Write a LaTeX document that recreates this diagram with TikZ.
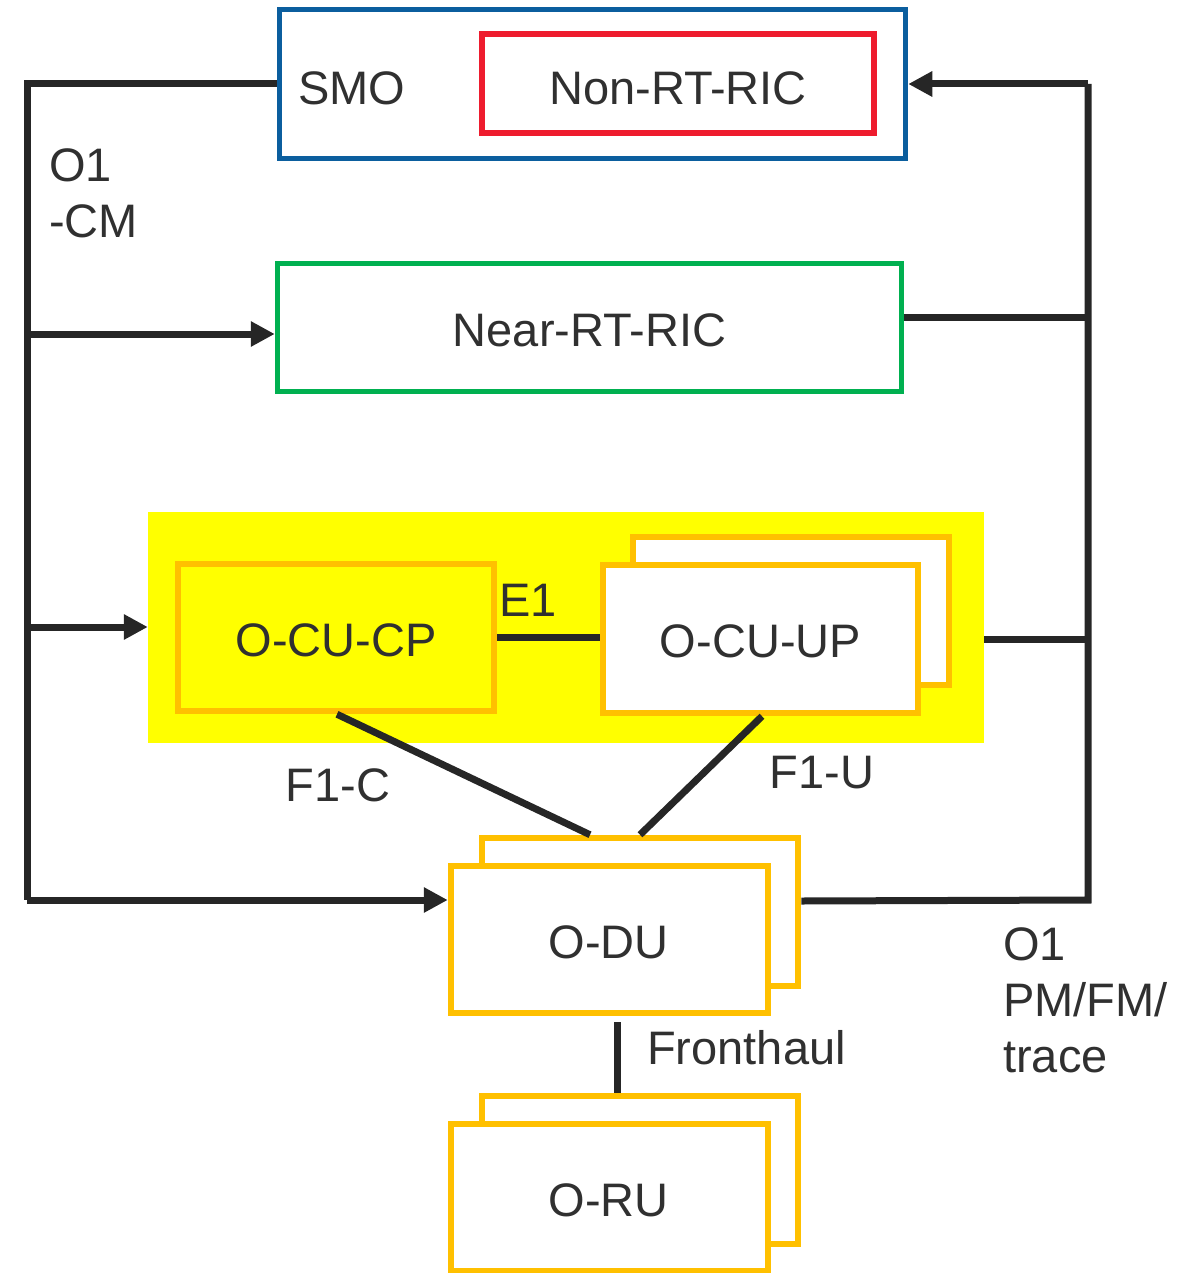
\documentclass[tikz,border=0pt]{standalone}
\usepackage{fontspec}
\setmainfont{Liberation Sans}
\usetikzlibrary{arrows.meta}
\definecolor{smoblue}{HTML}{0B5E9E}
\definecolor{ricred}{HTML}{EE1C2E}
\definecolor{ricgreen}{HTML}{00B050}
\definecolor{ranorange}{HTML}{FFC000}
\definecolor{cuyellow}{HTML}{FFFF00}
\definecolor{ink}{HTML}{262626}
\definecolor{txt}{HTML}{303030}
\begin{document}
\begin{tikzpicture}[x=1pt,y=-1pt,
  font=\fontsize{47}{56}\selectfont,
  every node/.style={text=txt, inner sep=0pt},
  ranbox/.style={draw=ranorange, line width=6.5pt, fill=white},
  wire/.style={draw=ink, line width=7pt},
  arr/.style={wire, -{Triangle[length=24pt,width=24pt]}},
  lbl/.style={align=left, anchor=north west}
]
\useasboundingbox (0,0) rectangle (1191,1273);

% SMO and Non-RT-RIC
\node[draw=smoblue, line width=5.5pt, minimum width=626pt, minimum height=149pt] (smo) at (592.5,84) {};
\node (smolbl) at (352,88) {SMO};
\node[draw=ricred, line width=6.5pt, minimum width=392pt, minimum height=99pt] (nonrt) at (678,83.5) {};
\node (nonrtlbl) at (678,88) {Non-RT-RIC};

% Near-RT-RIC
\node[draw=ricgreen, line width=5.5pt, minimum width=624pt, minimum height=128pt] (nearrt) at (589.5,327.5) {};
\node (nearrtlbl) at (589.5,330) {Near-RT-RIC};

% O-CU area
\node[fill=cuyellow, minimum width=836pt, minimum height=231pt] (cu) at (566,627.5) {};
\node[draw=ranorange, line width=6.5pt, fill=cuyellow, minimum width=316pt, minimum height=147pt] (cucp) at (336,637.5) {};
\node (cucplbl) at (336,640) {O-CU-CP};
\node[ranbox, minimum width=316pt, minimum height=148pt] (cuupb) at (791,611) {};
\node[ranbox, minimum width=315pt, minimum height=148pt] (cuup) at (760.5,639) {};
\node (cuuplbl) at (760.5,641) {O-CU-UP};

% O-DU
\node[ranbox, minimum width=316pt, minimum height=148pt] (dub) at (640,912) {};
\node[ranbox, minimum width=317pt, minimum height=147pt] (du) at (609.5,939.5) {};
\node (dulbl) at (608.5,942) {O-DU};

% O-RU
\node[ranbox, minimum width=316pt, minimum height=148pt] (rub) at (640,1170) {};
\node[ranbox, minimum width=317pt, minimum height=147pt] (ru) at (609.5,1197.5) {};
\node (rulbl) at (608.5,1200) {O-RU};

% bus coordinates
\coordinate (ltop) at (27,84);
\coordinate (lbot) at (27,900);
\coordinate (rtop) at (1088,84);
\coordinate (rbot) at (1088,900);

% left bus (O1-CM)
\draw[wire] (smo.west |- 0,84) -- (ltop) -- (lbot);
\draw[arr] (lbot) -- (du.west |- 0,900);
\draw[arr] (27,334) -- (nearrt.west |- 0,334);
\draw[arr] (30,627) -- (cu.west |- 0,627);

% right bus (O1 PM/FM/trace)
\draw[wire] (dub.east |- 0,901) -- (rbot) -- (rtop);
\draw[arr] (rtop) -- (smo.east |- 0,84);
\draw[wire] (nearrt.east |- 0,317) -- (1088,317);
\draw[wire] (cu.east |- 0,639) -- (1088,639);

% internal interfaces
\draw[wire] (cucp.east |- 0,637) -- (cuup.west |- 0,637);
\draw[wire] (cucp.south -| 337,0) -- (dub.north -| 590,0);
\draw[wire] (cuup.south -| 762,0) -- (dub.north -| 640,0);
\draw[wire] (du.south -| 617,0) ++(0,6) -- (rub.north -| 617,0);

% labels
\node (e1) at (528,600) {E1};
\node (f1c) at (338,785) {F1-C};
\node (f1u) at (822,773) {F1-U};
\node[anchor=west] (fh) at (647,1048) {Fronthaul};
\node[lbl] (o1cm) at (49,148) {O1\\-CM};
\node[lbl] (o1pm) at (1003,927) {O1\\PM/FM/\\trace};
\end{tikzpicture}
\end{document}
